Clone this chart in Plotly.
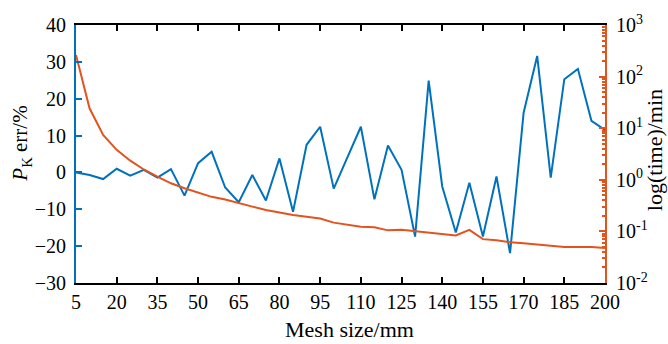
import plotly.graph_objects as go

mesh_size = list(range(5, 205, 5))
pk_err = [0, -0.7, -1.8, 1.0, -0.9, 0.7, -1.4, 0.9, -6.3, 2.5,
          5.6, -4.1, -8.1, -0.7, -7.6, 3.8, -10.7, 7.5, 12.4, -4.4,
          4.0, 12.4, -7.3, 7.3, 0.7, -17.4, 24.9, -3.8, -16.3, -2.8,
          -17.4, -1.1, -21.9, 16.2, 31.6, -1.4, 25.3, 28.1, 14.0, 11.5]
log_time = [2.42, 1.386, 0.87, 0.58, 0.37, 0.20, 0.06, -0.068, -0.165, -0.25,
            -0.33, -0.38, -0.455, -0.52, -0.585, -0.64, -0.68, -0.715, -0.75, -0.83,
            -0.876, -0.91, -0.92, -0.98, -0.97, -1.0, -1.03, -1.05, -1.08, -0.97,
            -1.15, -1.17, -1.21, -1.23, -1.25, -1.28, -1.3, -1.3, -1.3, -1.32]
time_min = [10 ** v for v in log_time]

x_ticks = list(range(5, 201, 15))
y_left_ticks = list(range(-30, 41, 10))
y_right_exp = [-2, -1, 0, 1, 2, 3]
y_right_minor = [m * 10 ** e for e in y_right_exp[:-1] for m in range(2, 10)]

BLUE = "#0072BD"
ORANGE = "#E2531D"
FONT = "Liberation Serif"

fig = go.Figure()
fig.add_trace(go.Scatter(x=mesh_size, y=pk_err, mode="lines",
                         line=dict(color=BLUE, width=2), yaxis="y"))
fig.add_trace(go.Scatter(x=mesh_size, y=time_min, mode="lines",
                         line=dict(color=ORANGE, width=2), yaxis="y2"))
# invisible trace carrying the minor-tick axis
fig.add_trace(go.Scatter(x=mesh_size, y=time_min, mode="lines",
                         line=dict(color="rgba(0,0,0,0)", width=0), yaxis="y3",
                         hoverinfo="skip"))

fig.update_layout(
    width=668, height=344,
    margin=dict(l=76, r=63, t=25, b=61),
    paper_bgcolor="white", plot_bgcolor="white",
    showlegend=False,
    font=dict(family=FONT, size=20, color="black"),
    xaxis=dict(
        range=[5, 200], tickvals=x_ticks, ticktext=[str(v) for v in x_ticks],
        ticks="inside", ticklen=6, tickcolor="black", tickwidth=1.5,
        showline=True, linecolor="black", linewidth=1.5, mirror="ticks",
        showgrid=False, zeroline=False, automargin=False,
    ),
    yaxis=dict(
        range=[-30, 40], tickvals=y_left_ticks,
        ticks="inside", ticklen=6, tickcolor=BLUE, tickwidth=1.5,
        showline=True, linecolor=BLUE, linewidth=2,
        showgrid=False, zeroline=False, automargin=False,
        ticklabelstandoff=4,
    ),
    yaxis2=dict(
        type="log", range=[-2, 3], overlaying="y", side="right",
        tickvals=[10 ** e for e in y_right_exp],
        ticktext=["10<sup>%d</sup>" % e for e in y_right_exp],
        ticks="inside", ticklen=6, tickcolor=ORANGE, tickwidth=1.5,
        showline=True, linecolor=ORANGE, linewidth=2,
        showgrid=False, zeroline=False, automargin=False,
        ticklabelstandoff=5,
    ),
    yaxis3=dict(
        type="log", range=[-2, 3], overlaying="y", side="right",
        tickvals=y_right_minor, showticklabels=False,
        ticks="inside", ticklen=3, tickcolor=ORANGE, tickwidth=1.5,
        showline=False, showgrid=False, zeroline=False, automargin=False,
    ),
    annotations=[
        dict(text="Mesh size/mm", xref="paper", yref="paper",
             x=(349 - 76) / 529, y=-0.18, xanchor="center", yanchor="middle",
             showarrow=False, font=dict(size=22)),
        dict(text="<i>P</i><sub>K</sub> err/%", xref="paper", yref="paper",
             x=(21 - 76) / 529, y=0.54, xanchor="center", yanchor="middle",
             textangle=-90, showarrow=False, font=dict(size=21)),
        dict(text="log(time)/min", xref="paper", yref="paper",
             x=(654 - 76) / 529, y=0.515, xanchor="center", yanchor="middle",
             textangle=-90, showarrow=False, font=dict(size=22)),
    ],
)

fig.write_html("out.html")
